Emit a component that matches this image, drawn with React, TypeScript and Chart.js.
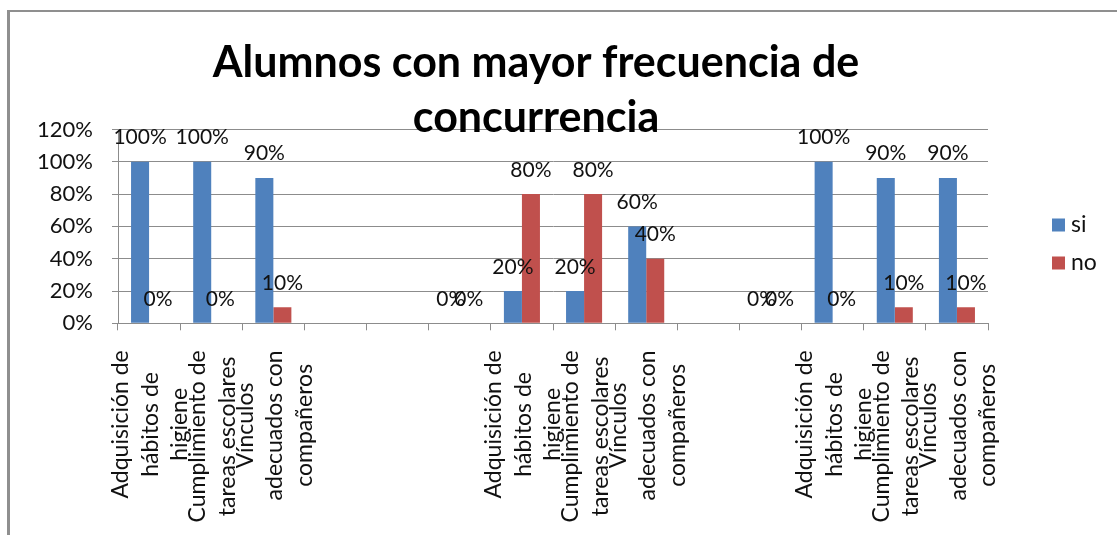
import React, { useEffect, useRef } from "react";
import { Chart, registerables } from "chart.js";

Chart.register(...registerables);

// ---- data ----
const categoryLabels: string[][] = [
  ["Adquisición de", "hábitos de", "higiene"],
  ["Cumplimiento de", "tareas escolares"],
  ["Vínculos", "adecuados con", "compañeros"],
  [],
  [],
  [],
  ["Adquisición de", "hábitos de", "higiene"],
  ["Cumplimiento de", "tareas escolares"],
  ["Vínculos", "adecuados con", "compañeros"],
  [],
  [],
  ["Adquisición de", "hábitos de", "higiene"],
  ["Cumplimiento de", "tareas escolares"],
  ["Vínculos", "adecuados con", "compañeros"],
];

const siValues: (number | null)[] = [100, 100, 90, null, null, 0, 20, 20, 60, null, 0, 100, 90, 90];
const noValues: (number | null)[] = [0, 0, 10, null, null, 0, 80, 80, 40, null, 0, 0, 10, 10];

const seriesNames = ["si", "no"];
const seriesColors = ["#4F81BD", "#C0504D"];
const yTickValues = [0, 20, 40, 60, 80, 100, 120];
const titleLines = ["Alumnos con mayor frecuencia de", "concurrencia"];

const FONT = "Lato";
const TEXT = "#111111";
const GRID = "#8c8c8c";

export default function App() {
  const ref = useRef<HTMLCanvasElement>(null);

  useEffect(() => {
    const canvas = ref.current;
    if (!canvas) return;

    const decor = {
      id: "decor",
      beforeDraw(chart: any) {
        const ctx = chart.ctx;
        ctx.save();
        ctx.fillStyle = "#ffffff";
        ctx.fillRect(0, 0, chart.width, chart.height);
        ctx.strokeStyle = "#8f8f8f";
        ctx.lineWidth = 2;
        ctx.beginPath();
        ctx.moveTo(7, 11);
        ctx.lineTo(chart.width, 11);
        ctx.stroke();
        ctx.lineWidth = 3;
        ctx.beginPath();
        ctx.moveTo(8.5, 10);
        ctx.lineTo(8.5, chart.height);
        ctx.stroke();
        ctx.restore();
      },
      afterDatasetsDraw(chart: any) {
        const ctx = chart.ctx;
        ctx.save();
        // value labels
        ctx.fillStyle = TEXT;
        ctx.font = `21px ${FONT}`;
        ctx.textAlign = "center";
        ctx.textBaseline = "alphabetic";
        chart.data.datasets.forEach((ds: any, i: number) => {
          const meta = chart.getDatasetMeta(i);
          meta.data.forEach((bar: any, j: number) => {
            const v = ds.data[j];
            if (v === null || v === undefined) return;
            ctx.fillText(`${v}%`, bar.x, bar.y - 17.5);
          });
        });

        // category labels (rotated, centred lines)
        const xs = chart.scales.x;
        ctx.font = `23px ${FONT}`;
        ctx.textAlign = "center";
        ctx.textBaseline = "middle";
        const lineGap = 29.5;
        const topY = chart.chartArea.bottom + 27;
        (chart.data.labels as string[][]).forEach((lines, j) => {
          if (!lines || !lines.length) return;
          const cx = xs.getPixelForValue(j) + 1.5;
          let maxW = 0;
          lines.forEach((l) => (maxW = Math.max(maxW, ctx.measureText(l).width)));
          const cy = topY + maxW / 2;
          lines.forEach((l, k) => {
            const lx = cx + (k - (lines.length - 1) / 2) * lineGap;
            ctx.save();
            ctx.translate(lx, cy);
            ctx.rotate(-Math.PI / 2);
            ctx.fillText(l, 0, 0);
            ctx.restore();
          });
        });

        // title
        ctx.fillStyle = "#000";
        ctx.font = `bold 43px ${FONT}`;
        ctx.textAlign = "center";
        ctx.textBaseline = "alphabetic";
        ctx.fillText(titleLines[0], 536, 77);
        ctx.fillText(titleLines[1], 536, 132);

        // legend
        ctx.font = `23px ${FONT}`;
        ctx.textAlign = "left";
        ctx.textBaseline = "middle";
        chart.data.datasets.forEach((ds: any, i: number) => {
          const cy = 225 + i * 38;
          ctx.fillStyle = ds.backgroundColor;
          ctx.fillRect(1052, cy - 6.5, 13, 13);
          ctx.fillStyle = TEXT;
          ctx.fillText(ds.label, 1071, cy);
        });
        ctx.restore();
      },
    };

    const chart = new Chart(canvas, {
      type: "bar",
      data: {
        labels: categoryLabels as any,
        datasets: [
          { label: seriesNames[0], data: siValues, backgroundColor: seriesColors[0], borderWidth: 0 },
          { label: seriesNames[1], data: noValues, backgroundColor: seriesColors[1], borderWidth: 0 },
        ],
      },
      options: {
        animation: false,
        responsive: false,
        maintainAspectRatio: false,
        datasets: { bar: { categoryPercentage: 0.58, barPercentage: 1 } },
        layout: { padding: { top: 129.5, right: 129, left: 0, bottom: 0 } },
        plugins: {
          legend: { display: false },
          title: { display: false },
          tooltip: { enabled: false },
        },
        scales: {
          x: {
            offset: true,
            grid: { offset: true, drawOnChartArea: false, drawTicks: true, tickLength: 7, color: GRID },
            border: { display: true, color: GRID, width: 1 },
            ticks: { display: false },
            afterFit: (s: any) => {
              s.height = 535 - 323.3;
            },
          },
          y: {
            min: 0,
            max: 120,
            afterBuildTicks: (s: any) => {
              s.ticks = yTickValues.map((v) => ({ value: v }));
            },
            ticks: {
              padding: 19,
              color: TEXT,
              font: { family: FONT, size: 22 },
              callback: (v: any) => `${v}%`,
            },
            grid: { color: GRID, tickLength: 6, lineWidth: 1 },
            border: { display: true, color: GRID, width: 1 },
            afterFit: (s: any) => {
              s.width = 118;
            },
          },
        },
      } as any,
      plugins: [decor],
    });

    if ((document as any).fonts && (document as any).fonts.ready) {
      (document as any).fonts.ready.then(() => {
        try {
          chart.update("none");
        } catch (e) {}
      });
    }

    return () => chart.destroy();
  }, []);

  return (
    <div style={{ position: "fixed", left: 0, top: 0, width: 1117, height: 535, background: "#fff" }}>
      <canvas ref={ref} width={1117} height={535} style={{ display: "block" }} />
    </div>
  );
}
